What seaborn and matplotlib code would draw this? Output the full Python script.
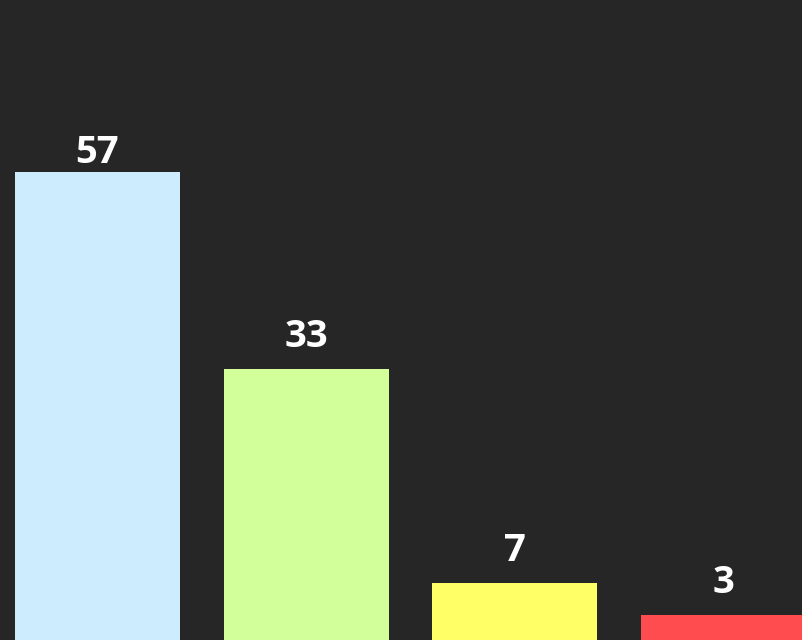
import matplotlib
matplotlib.use("Agg")
import matplotlib.pyplot as plt
import seaborn as sns
import pandas as pd

categories = ["A", "B", "C", "D"]
values = [57, 33, 7, 3]
colors = ["#cdedff", "#d3ff9b", "#ffff66", "#ff4d4f"]

sns.set_style("dark")
plt.rcParams['font.family'] = ['Open Sans', 'DejaVu Sans']

df = pd.DataFrame({"cat": categories, "val": values})

fig = plt.figure(figsize=(8.03, 6.4), dpi=100, facecolor="#262626")
ax = fig.add_axes([0, 0, 1, 1])
ax.set_facecolor("#262626")
sns.barplot(data=df, x="cat", y="val", hue="cat", palette=colors, legend=False,
            width=0.79, saturation=1, linewidth=0, edgecolor="none", ax=ax)
vmax = max(values)
for i, v in enumerate(values):
    y = min(v + 2.68, vmax + 1.1)
    ax.text(i, y, str(v), ha="center", va="baseline", color="white",
            fontsize=27.5, fontweight="bold")
ax.set_xlim(-0.467, 3.38)
ax.set_ylim(0, 78)
ax.axis("off")
fig.savefig("out.png", dpi=100, facecolor="#262626")
